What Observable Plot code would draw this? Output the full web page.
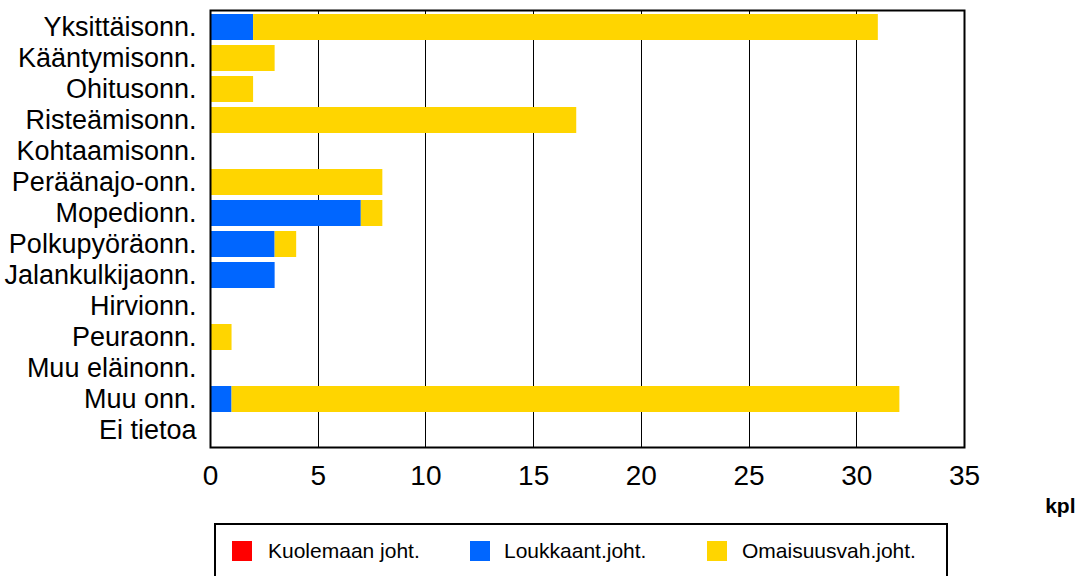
<!DOCTYPE html>
<html><head><meta charset="utf-8">
<script src="https://cdn.jsdelivr.net/npm/d3@7"></script>
<script src="https://cdn.jsdelivr.net/npm/@observablehq/plot@0.6"></script>
<style>
body{margin:0;background:#fff;font-family:"Liberation Sans",Arial,sans-serif;position:relative;width:1087px;height:576px;overflow:hidden;}
#chart svg{display:block;}
#legend{position:absolute;left:214px;top:523px;width:734px;height:70px;border:2px solid #000;box-sizing:border-box;}
.sw{position:absolute;top:16px;width:20px;height:20px;}
.lt{position:absolute;top:16px;height:20px;line-height:20px;font-size:21px;color:#000;white-space:nowrap;}
</style>
</head><body>
<div id="chart"></div>
<div id="legend"></div>
<script>
const categories = ["Yksittäisonn.","Kääntymisonn.","Ohitusonn.","Risteämisonn.","Kohtaamisonn.","Peräänajo-onn.","Mopedionn.","Polkupyöräonn.","Jalankulkijaonn.","Hirvionn.","Peuraonn.","Muu eläinonn.","Muu onn.","Ei tietoa"];
const seriesNames = ["Kuolemaan joht.","Loukkaant.joht.","Omaisuusvah.joht."];
const fatal    = [0,0,0,0,0,0,0,0,0,0,0,0,0,0];
const injury   = [2,0,0,0,0,0,7,3,3,0,0,0,1,0];
const property = [29,3,2,17,0,8,1,1,0,0,1,0,31,0];
const xTicks = [0,5,10,15,20,25,30,35];
const colors = ["#ff0000","#0066ff","#ffd500"];

const seriesValues = [fatal, injury, property];
const rows = [];
categories.forEach((c, i) => {
  seriesNames.forEach((s, j) => rows.push({category: c, series: s, value: seriesValues[j][i]}));
});

const chart = Plot.plot({
  width: 1087,
  height: 523,
  marginTop: 10,
  marginBottom: 76,
  marginLeft: 210,
  marginRight: 123,
  style: {fontFamily: '"Liberation Sans", Arial, sans-serif', background: "#fff", color: "#000"},
  x: {domain: [0, 35]},
  y: {domain: categories, paddingInner: 0.17, paddingOuter: 0.085, align: 0.5},
  color: {domain: seriesNames, range: colors},
  marks: [
    Plot.gridX(xTicks.slice(1, -1), {stroke: "#000", strokeOpacity: 1, strokeWidth: 1, shapeRendering: "crispEdges"}),
    Plot.barX(rows, Plot.stackX({y: "category", x: "value", fill: "series", order: seriesNames})),
    Plot.frame({stroke: "#000", strokeWidth: 2}),
    Plot.axisX(xTicks, {tickSize: 0, tickPadding: 18, fontSize: 28, label: null}),
    Plot.axisY({tickSize: 0, tickPadding: 14, fontSize: 27, label: null}),
    Plot.text(["kpl"], {frameAnchor: "bottom-right", dx: 111, dy: 59, lineAnchor: "middle", textAnchor: "end", fontSize: 21, fontWeight: "bold"})
  ]
});
document.getElementById("chart").appendChild(chart);

const legend = document.getElementById("legend");
const swLeft = [16, 254, 491];
const txtLeft = [52, 288, 526];
seriesNames.forEach((s, j) => {
  const sw = document.createElement("div");
  sw.className = "sw";
  sw.style.left = swLeft[j] + "px";
  sw.style.background = colors[j];
  legend.appendChild(sw);
  const t = document.createElement("div");
  t.className = "lt";
  t.style.left = txtLeft[j] + "px";
  t.textContent = s;
  legend.appendChild(t);
});
</script>
</body></html>
